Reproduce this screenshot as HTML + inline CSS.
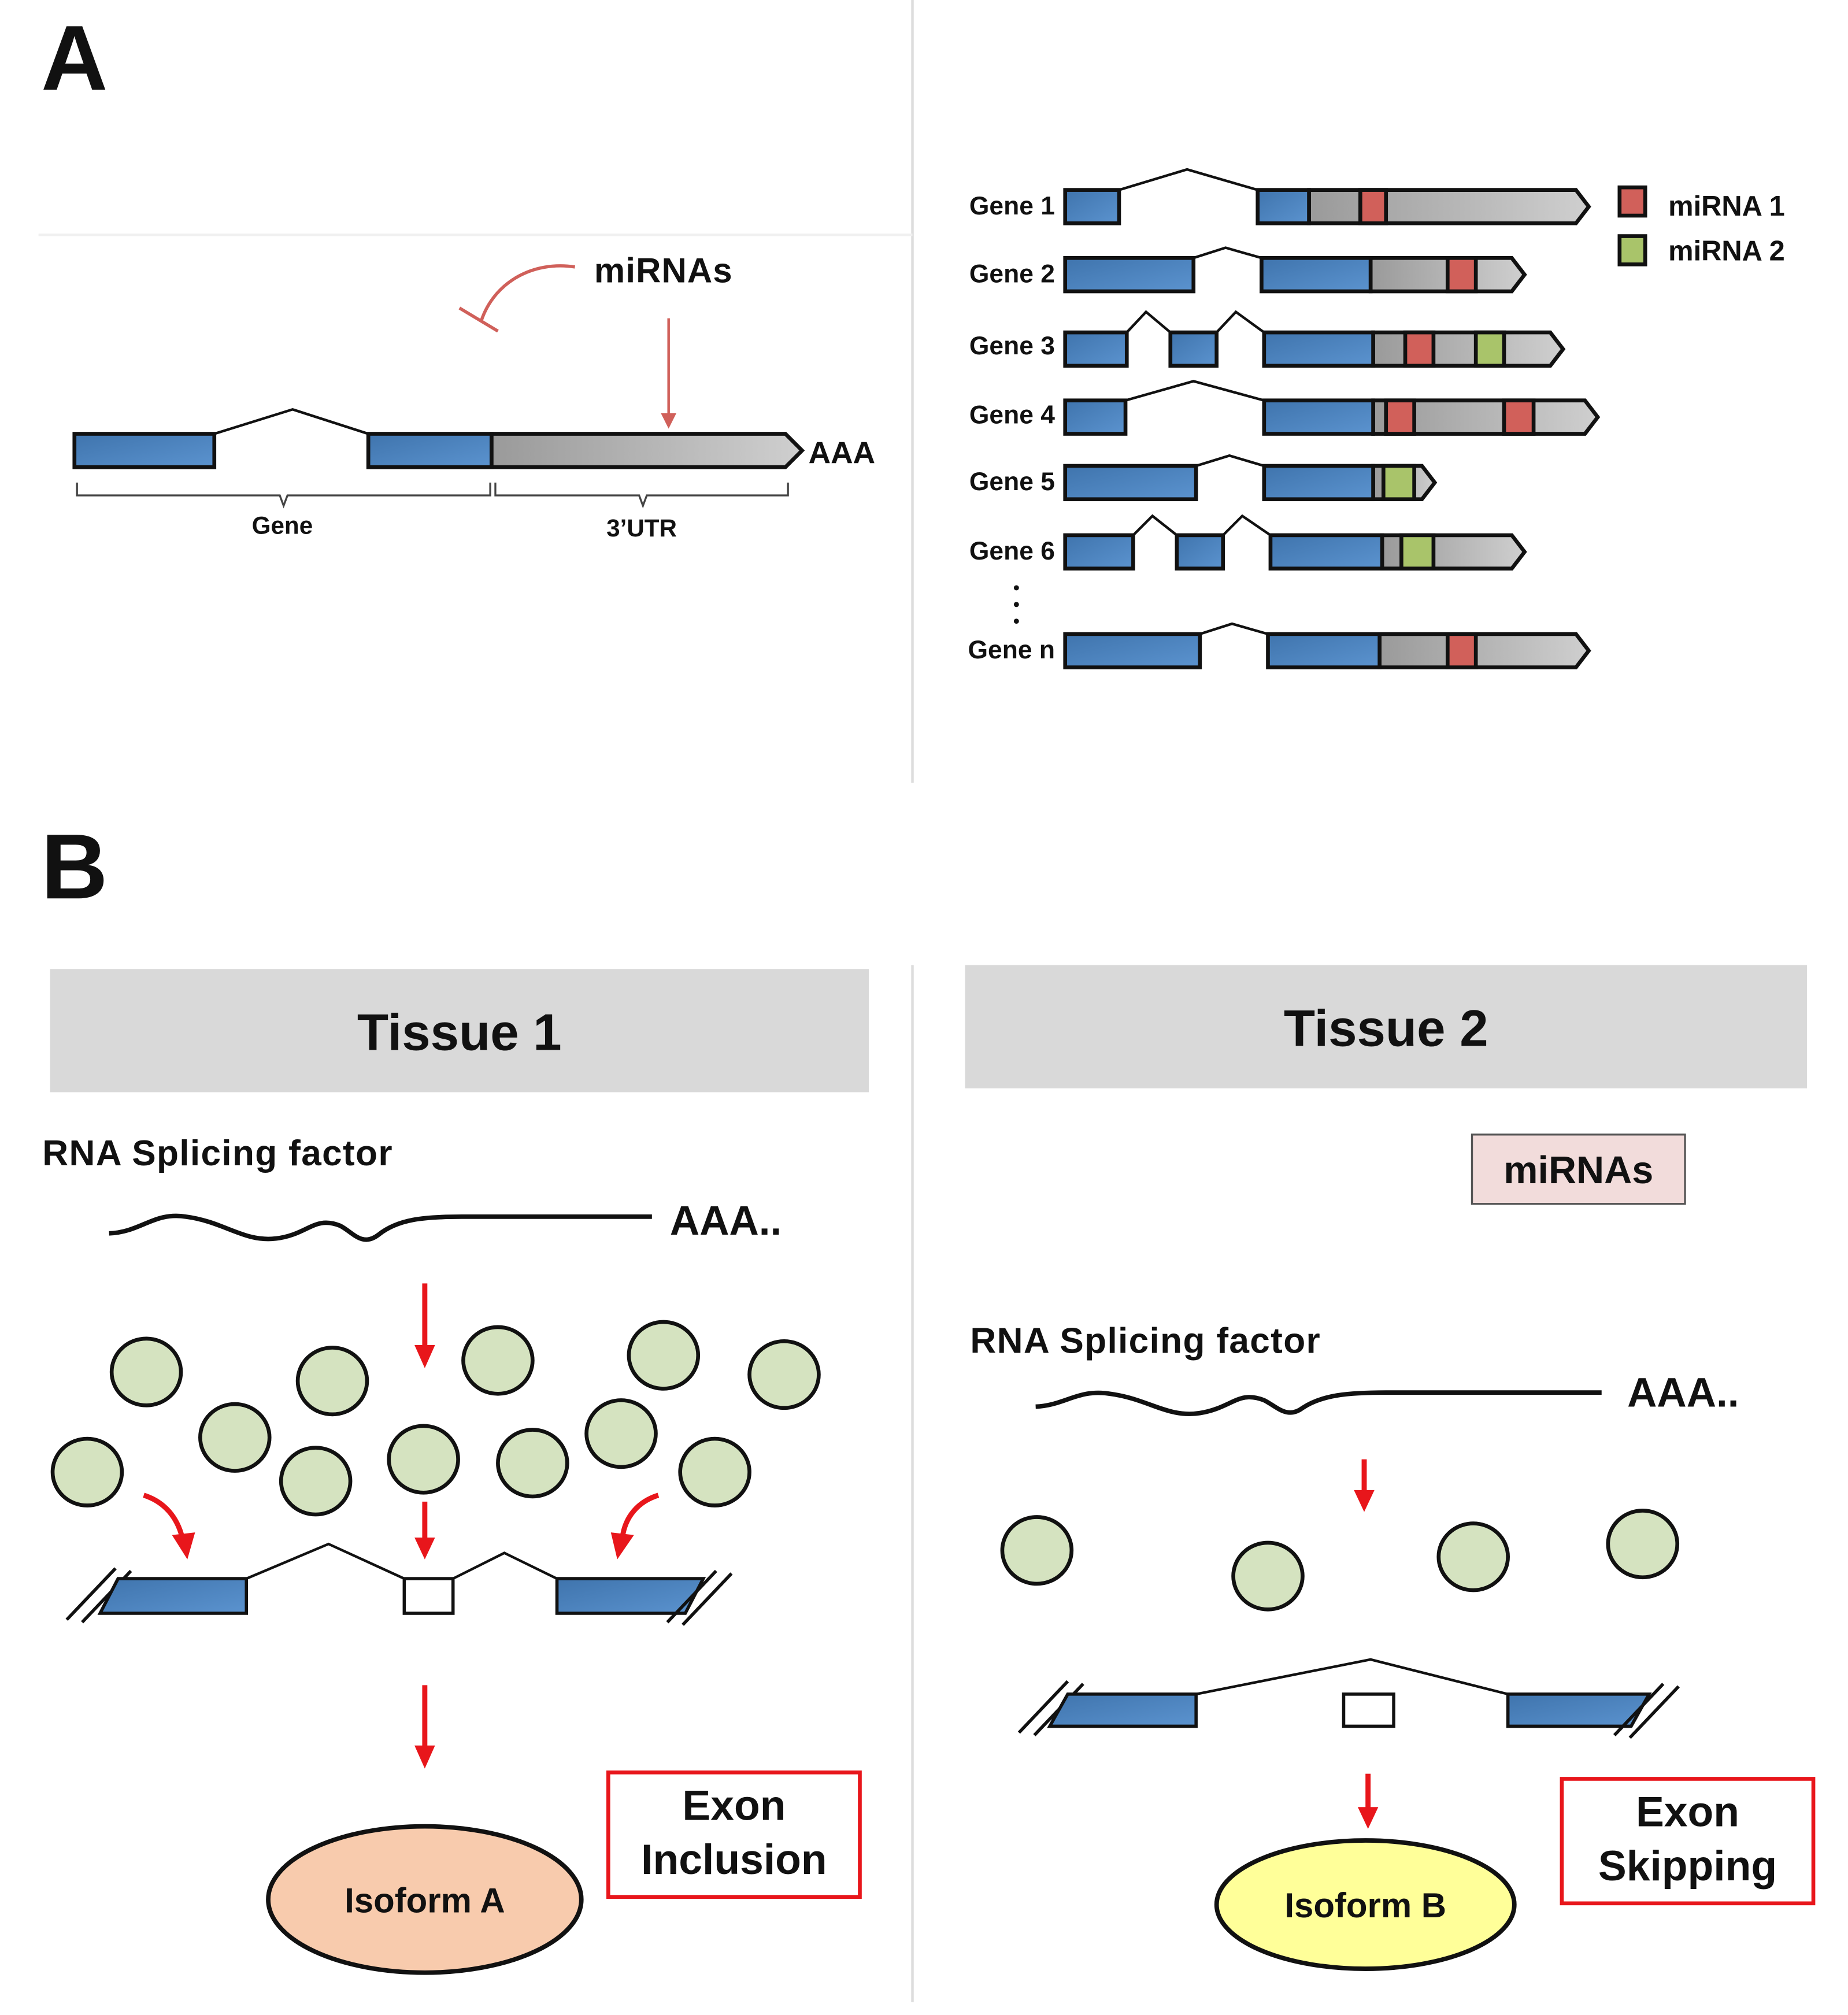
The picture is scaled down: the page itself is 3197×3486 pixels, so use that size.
<!DOCTYPE html>
<html><head><meta charset="utf-8"><style>
html,body{margin:0;padding:0;background:#fff}
svg{display:block}
text{font-family:"Liberation Sans",Arial,sans-serif;font-weight:bold;fill:#111}
</style></head><body>
<svg width="3197" height="3486" viewBox="0 0 1440 1570" preserveAspectRatio="none" xmlns="http://www.w3.org/2000/svg">
<defs>
<linearGradient id="bl" x1="0" y1="0" x2="1" y2="1"><stop offset="0" stop-color="#3f74ad"/><stop offset="1" stop-color="#5b93cf"/></linearGradient>
<linearGradient id="gr" x1="0" y1="0" x2="1" y2="0"><stop offset="0" stop-color="#9a9a9a"/><stop offset="1" stop-color="#cfcfcf"/></linearGradient>
</defs>
<rect width="1440" height="1570" fill="#fff"/>
<line x1="711" y1="0" x2="711" y2="610" stroke="#ddd" stroke-width="2"/>
<line x1="711" y1="752" x2="711" y2="1560" stroke="#ddd" stroke-width="2"/>
<line x1="30" y1="183" x2="711" y2="183" stroke="#f0f0f0" stroke-width="2"/>
<text x="32" y="70" font-size="72">A</text>
<text x="32" y="700" font-size="72">B</text>

<g stroke="#111" stroke-width="3">
<polyline points="167,338 228,319 287,338" fill="none" stroke-width="2"/>
<rect x="58" y="338" width="109" height="26" fill="url(#bl)"/>
<polygon points="383,338 612,338 625,351 612,364 383,364" fill="url(#gr)"/>
<rect x="287" y="338" width="96" height="26" fill="url(#bl)"/>
</g>
<text x="630" y="361" font-size="24">AAA</text>
<g stroke="#444" stroke-width="1.5" fill="none">
<path d="M60,376 v10 h158 l3,8 l3,-8 h158 v-10"/>
<path d="M386,376 v10 h112 l3,8 l3,-8 h110 v-10"/>
</g>
<text x="220" y="416" font-size="19" text-anchor="middle">Gene</text>
<text x="500" y="418" font-size="19" text-anchor="middle">3’UTR</text>
<text x="463" y="220" font-size="27" letter-spacing="0.5">miRNAs</text>
<line x1="521" y1="248" x2="521" y2="326" stroke="#d0605a" stroke-width="2"/>
<polygon points="515,322 527,322 521,334" fill="#d0605a"/>
<path d="M448,208 C415,203 385,220 375,250" fill="none" stroke="#d0605a" stroke-width="2.5"/>
<line x1="358" y1="240" x2="388" y2="258" stroke="#d0605a" stroke-width="2.5"/>

<g font-size="20" text-anchor="end">
<text x="822" y="167">Gene 1</text><text x="822" y="220">Gene 2</text><text x="822" y="276">Gene 3</text>
<text x="822" y="330">Gene 4</text><text x="822" y="382">Gene 5</text><text x="822" y="436">Gene 6</text><text x="822" y="513">Gene n</text>
</g>
<g fill="#111"><circle cx="792" cy="458" r="2"/><circle cx="792" cy="471" r="2"/><circle cx="792" cy="484" r="2"/></g>
<g stroke="#111" stroke-width="3">
<polyline points="872,148 925,132 980,148" fill="none" stroke-width="2"/>
<rect x="830" y="148" width="42" height="26" fill="url(#bl)"/>
<polygon points="1020,148 1228,148 1238,161 1228,174 1020,174" fill="url(#gr)"/>
<rect x="980" y="148" width="40" height="26" fill="url(#bl)"/>
<rect x="1060" y="148" width="20" height="26" fill="#d1605a"/>
<polyline points="930,201 955,193 983,201" fill="none" stroke-width="2"/>
<rect x="830" y="201" width="100" height="26" fill="url(#bl)"/>
<polygon points="1068,201 1178,201 1188,214 1178,227 1068,227" fill="url(#gr)"/>
<rect x="983" y="201" width="85" height="26" fill="url(#bl)"/>
<rect x="1128" y="201" width="22" height="26" fill="#d1605a"/>
<polyline points="878,259 893,243 912,259" fill="none" stroke-width="2"/>
<polyline points="948,259 963,243 985,259" fill="none" stroke-width="2"/>
<rect x="830" y="259" width="48" height="26" fill="url(#bl)"/>
<rect x="912" y="259" width="36" height="26" fill="url(#bl)"/>
<polygon points="1070,259 1208,259 1218,272 1208,285 1070,285" fill="url(#gr)"/>
<rect x="985" y="259" width="85" height="26" fill="url(#bl)"/>
<rect x="1095" y="259" width="22" height="26" fill="#d1605a"/>
<rect x="1150" y="259" width="22" height="26" fill="#a9c46a"/>
<polyline points="877,312 930,297 985,312" fill="none" stroke-width="2"/>
<rect x="830" y="312" width="47" height="26" fill="url(#bl)"/>
<polygon points="1070,312 1235,312 1245,325 1235,338 1070,338" fill="url(#gr)"/>
<rect x="985" y="312" width="85" height="26" fill="url(#bl)"/>
<rect x="1080" y="312" width="22" height="26" fill="#d1605a"/>
<rect x="1172" y="312" width="23" height="26" fill="#d1605a"/>
<polyline points="932,363 958,355 985,363" fill="none" stroke-width="2"/>
<rect x="830" y="363" width="102" height="26" fill="url(#bl)"/>
<polygon points="1070,363 1108,363 1118,376 1108,389 1070,389" fill="url(#gr)"/>
<rect x="985" y="363" width="85" height="26" fill="url(#bl)"/>
<rect x="1078" y="363" width="24" height="26" fill="#a9c46a"/>
<polyline points="883,417 898,402 917,417" fill="none" stroke-width="2"/>
<polyline points="953,417 968,402 990,417" fill="none" stroke-width="2"/>
<rect x="830" y="417" width="53" height="26" fill="url(#bl)"/>
<rect x="917" y="417" width="36" height="26" fill="url(#bl)"/>
<polygon points="1077,417 1178,417 1188,430 1178,443 1077,443" fill="url(#gr)"/>
<rect x="990" y="417" width="87" height="26" fill="url(#bl)"/>
<rect x="1092" y="417" width="25" height="26" fill="#a9c46a"/>
<polyline points="935,494 960,486 988,494" fill="none" stroke-width="2"/>
<rect x="830" y="494" width="105" height="26" fill="url(#bl)"/>
<polygon points="1075,494 1228,494 1238,507 1228,520 1075,520" fill="url(#gr)"/>
<rect x="988" y="494" width="87" height="26" fill="url(#bl)"/>
<rect x="1128" y="494" width="22" height="26" fill="#d1605a"/>
<rect x="1262" y="146" width="20" height="22" fill="#d1605a"/>
<rect x="1262" y="184" width="20" height="22" fill="#a9c46a"/>
</g>
<text x="1300" y="168" font-size="22">miRNA 1</text>
<text x="1300" y="203" font-size="22">miRNA 2</text>

<rect x="39" y="755" width="638" height="96" fill="#d9d9d9"/>
<rect x="752" y="752" width="656" height="96" fill="#d9d9d9"/>
<text x="358" y="818" font-size="40" text-anchor="middle">Tissue 1</text>
<text x="1080" y="815" font-size="40" text-anchor="middle">Tissue 2</text>
<text x="33" y="908" font-size="28" letter-spacing="0.6">RNA Splicing factor</text>
<text x="756" y="1054" font-size="28" letter-spacing="0.6">RNA Splicing factor</text>
<rect x="1147" y="884" width="166" height="54" fill="#f2dcdb" stroke="#555" stroke-width="1.5"/>
<text x="1230" y="922" font-size="30" text-anchor="middle">miRNAs</text>

<path d="M85,961 C110,960 120,944 145,948 C175,952 190,968 215,965 C240,962 245,947 265,955 C275,960 282,972 295,962 C310,950 330,948 360,948 L508,948" fill="none" stroke="#111" stroke-width="3.5"/>
<text x="522" y="962" font-size="32">AAA..</text>
<path d="M807,1096 C830,1095 840,1082 865,1086 C895,1090 910,1105 935,1101 C960,1097 965,1083 985,1091 C995,1096 1003,1106 1015,1097 C1030,1087 1050,1085 1080,1085 L1248,1085" fill="none" stroke="#111" stroke-width="3.5"/>
<text x="1268" y="1096" font-size="32">AAA..</text>

<g fill="#d5e3c0" stroke="#111" stroke-width="3">
<ellipse cx="114" cy="1069" rx="27" ry="26"/><ellipse cx="259" cy="1076" rx="27" ry="26"/><ellipse cx="388" cy="1060" rx="27" ry="26"/>
<ellipse cx="517" cy="1056" rx="27" ry="26"/><ellipse cx="611" cy="1071" rx="27" ry="26"/><ellipse cx="183" cy="1120" rx="27" ry="26"/>
<ellipse cx="68" cy="1147" rx="27" ry="26"/><ellipse cx="246" cy="1154" rx="27" ry="26"/><ellipse cx="330" cy="1137" rx="27" ry="26"/>
<ellipse cx="415" cy="1140" rx="27" ry="26"/><ellipse cx="484" cy="1117" rx="27" ry="26"/><ellipse cx="557" cy="1147" rx="27" ry="26"/>
<ellipse cx="808" cy="1208" rx="27" ry="26"/><ellipse cx="988" cy="1228" rx="27" ry="26"/><ellipse cx="1148" cy="1213" rx="27" ry="26"/><ellipse cx="1280" cy="1203" rx="27" ry="26"/>
</g>

<g stroke="#e8161b" stroke-width="4" fill="none">
<line x1="331" y1="1000" x2="331" y2="1050"/>
<line x1="331" y1="1170" x2="331" y2="1200"/>
<line x1="331" y1="1313" x2="331" y2="1362"/>
<line x1="1063" y1="1137" x2="1063" y2="1163"/>
<line x1="1066" y1="1382" x2="1066" y2="1410"/>
<path d="M112,1165 C128,1170 138,1182 142,1198"/>
<path d="M513,1165 C497,1170 487,1182 485,1198"/>
</g>
<g fill="#e8161b">
<polygon points="323,1048 339,1048 331,1066"/>
<polygon points="323,1198 339,1198 331,1215"/>
<polygon points="323,1360 339,1360 331,1378"/>
<polygon points="1055,1161 1071,1161 1063,1178"/>
<polygon points="1058,1408 1074,1408 1066,1425"/>
<polygon points="134,1196 152,1194 146,1215"/>
<polygon points="476,1194 494,1196 481,1215"/>
</g>

<g stroke="#111" stroke-width="2.5">
<line x1="52" y1="1262" x2="90" y2="1222"/><line x1="64" y1="1264" x2="102" y2="1224"/>
<polygon points="92,1230 192,1230 192,1257 78,1257" fill="url(#bl)"/>
<polyline points="192,1230 256,1203 315,1230" fill="none" stroke-width="2"/>
<rect x="315" y="1230" width="38" height="27" fill="#fff"/>
<polyline points="353,1230 393,1210 434,1230" fill="none" stroke-width="2"/>
<polygon points="434,1230 548,1230 534,1257 434,1257" fill="url(#bl)"/>
<line x1="520" y1="1264" x2="558" y2="1224"/><line x1="532" y1="1266" x2="570" y2="1226"/>
</g>
<g stroke="#111" stroke-width="2.5">
<line x1="794" y1="1350" x2="832" y2="1310"/><line x1="806" y1="1352" x2="844" y2="1312"/>
<polygon points="832,1320 932,1320 932,1345 818,1345" fill="url(#bl)"/>
<polyline points="932,1320 1068,1293 1175,1320" fill="none" stroke-width="2"/>
<rect x="1047" y="1320" width="39" height="25" fill="#fff"/>
<polygon points="1175,1320 1285,1320 1271,1345 1175,1345" fill="url(#bl)"/>
<line x1="1258" y1="1352" x2="1296" y2="1312"/><line x1="1270" y1="1354" x2="1308" y2="1314"/>
</g>

<ellipse cx="331" cy="1480" rx="122" ry="57" fill="#f8cbad" stroke="#111" stroke-width="3.5"/>
<text x="331" y="1490" font-size="27" text-anchor="middle">Isoform A</text>
<ellipse cx="1064" cy="1484" rx="116" ry="50" fill="#ffff99" stroke="#111" stroke-width="3.5"/>
<text x="1064" y="1494" font-size="27" text-anchor="middle">Isoform B</text>

<rect x="474" y="1381" width="196" height="97" fill="#fff" stroke="#e8161b" stroke-width="3"/>
<text x="572" y="1418" font-size="33" text-anchor="middle">Exon</text>
<text x="572" y="1460" font-size="33" text-anchor="middle">Inclusion</text>
<rect x="1217" y="1386" width="196" height="97" fill="#fff" stroke="#e8161b" stroke-width="3"/>
<text x="1315" y="1423" font-size="33" text-anchor="middle">Exon</text>
<text x="1315" y="1465" font-size="33" text-anchor="middle">Skipping</text>
</svg>
</body></html>
